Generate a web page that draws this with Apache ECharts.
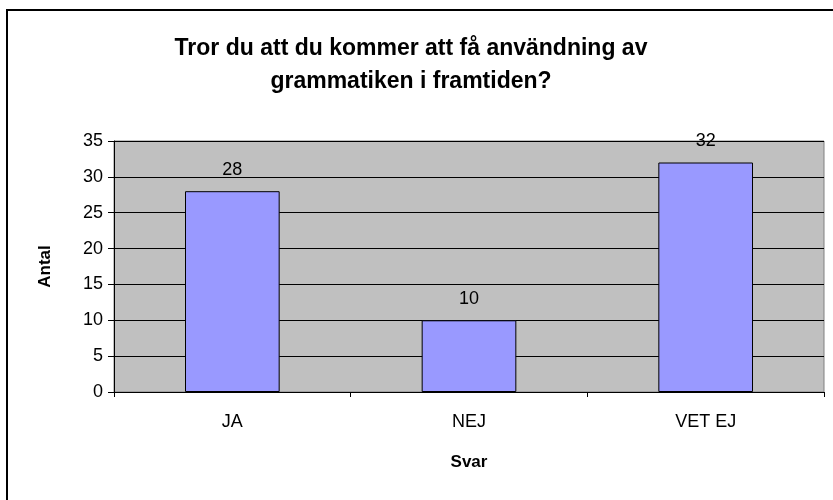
<!DOCTYPE html>
<html>
<head>
<meta charset="utf-8">
<script src="https://cdn.jsdelivr.net/npm/echarts@6/dist/echarts.min.js"></script>
<style>
  html, body { margin: 0; padding: 0; background: #fff; }
  #chart { width: 833px; height: 500px; }
</style>
</head>
<body>
<div id="chart"></div>
<script>
// data
var categories = ['JA', 'NEJ', 'VET EJ'];
var antal = [28, 10, 32];
var yTicks = [0, 5, 10, 15, 20, 25, 30, 35];

var font = '"Liberation Sans", Arial, sans-serif';
var chart = echarts.init(document.getElementById('chart'));

chart.setOption({
  backgroundColor: '#ffffff',
  animation: false,
  title: {
    text: 'Tror du att du kommer att få användning av\ngrammatiken i framtiden?',
    left: 406,
    top: 27,
    textAlign: 'center',
    textStyle: {
      fontFamily: font,
      fontSize: 23,
      fontWeight: 'bold',
      color: '#000',
      lineHeight: 33
    }
  },
  graphic: [{
    type: 'rect',
    shape: { x: 7, y: 10, width: 900, height: 600 },
    style: { fill: 'none', stroke: '#000', lineWidth: 2 },
    silent: true
  }],
  grid: {
    left: 114,
    top: 141,
    width: 710,
    height: 251,
    show: true,
    backgroundColor: '#c0c0c0',
    borderColor: '#808080',
    borderWidth: 1
  },
  xAxis: {
    type: 'category',
    data: categories,
    name: 'Svar',
    nameLocation: 'middle',
    nameGap: 62,
    nameTextStyle: { fontFamily: font, fontSize: 17, fontWeight: 'bold', color: '#000' },
    axisLine: { lineStyle: { color: '#000', width: 1 } },
    axisTick: { show: true, alignWithLabel: false, length: 5, lineStyle: { color: '#000' } },
    axisLabel: { fontFamily: font, fontSize: 18, color: '#000', margin: 21 },
    splitLine: { show: false }
  },
  yAxis: {
    type: 'value',
    min: yTicks[0],
    max: yTicks[yTicks.length - 1],
    interval: 5,
    name: 'Antal',
    nameLocation: 'middle',
    nameGap: 60,
    nameTextStyle: { fontFamily: font, fontSize: 17, fontWeight: 'bold', color: '#000' },
    axisLine: { show: true, lineStyle: { color: '#000', width: 1 } },
    axisTick: { show: true, length: 6, lineStyle: { color: '#000' } },
    axisLabel: { fontFamily: font, fontSize: 18, color: '#000', margin: 11 },
    splitLine: { show: true, lineStyle: { color: '#000', width: 1 } }
  },
  series: [{
    type: 'bar',
    data: antal,
    barWidth: '40%',
    itemStyle: { color: '#9999ff', borderColor: '#000', borderWidth: 1 },
    label: {
      show: true,
      position: 'top',
      distance: 12,
      fontFamily: font,
      fontSize: 18,
      color: '#000'
    }
  }]
});
</script>
</body>
</html>
